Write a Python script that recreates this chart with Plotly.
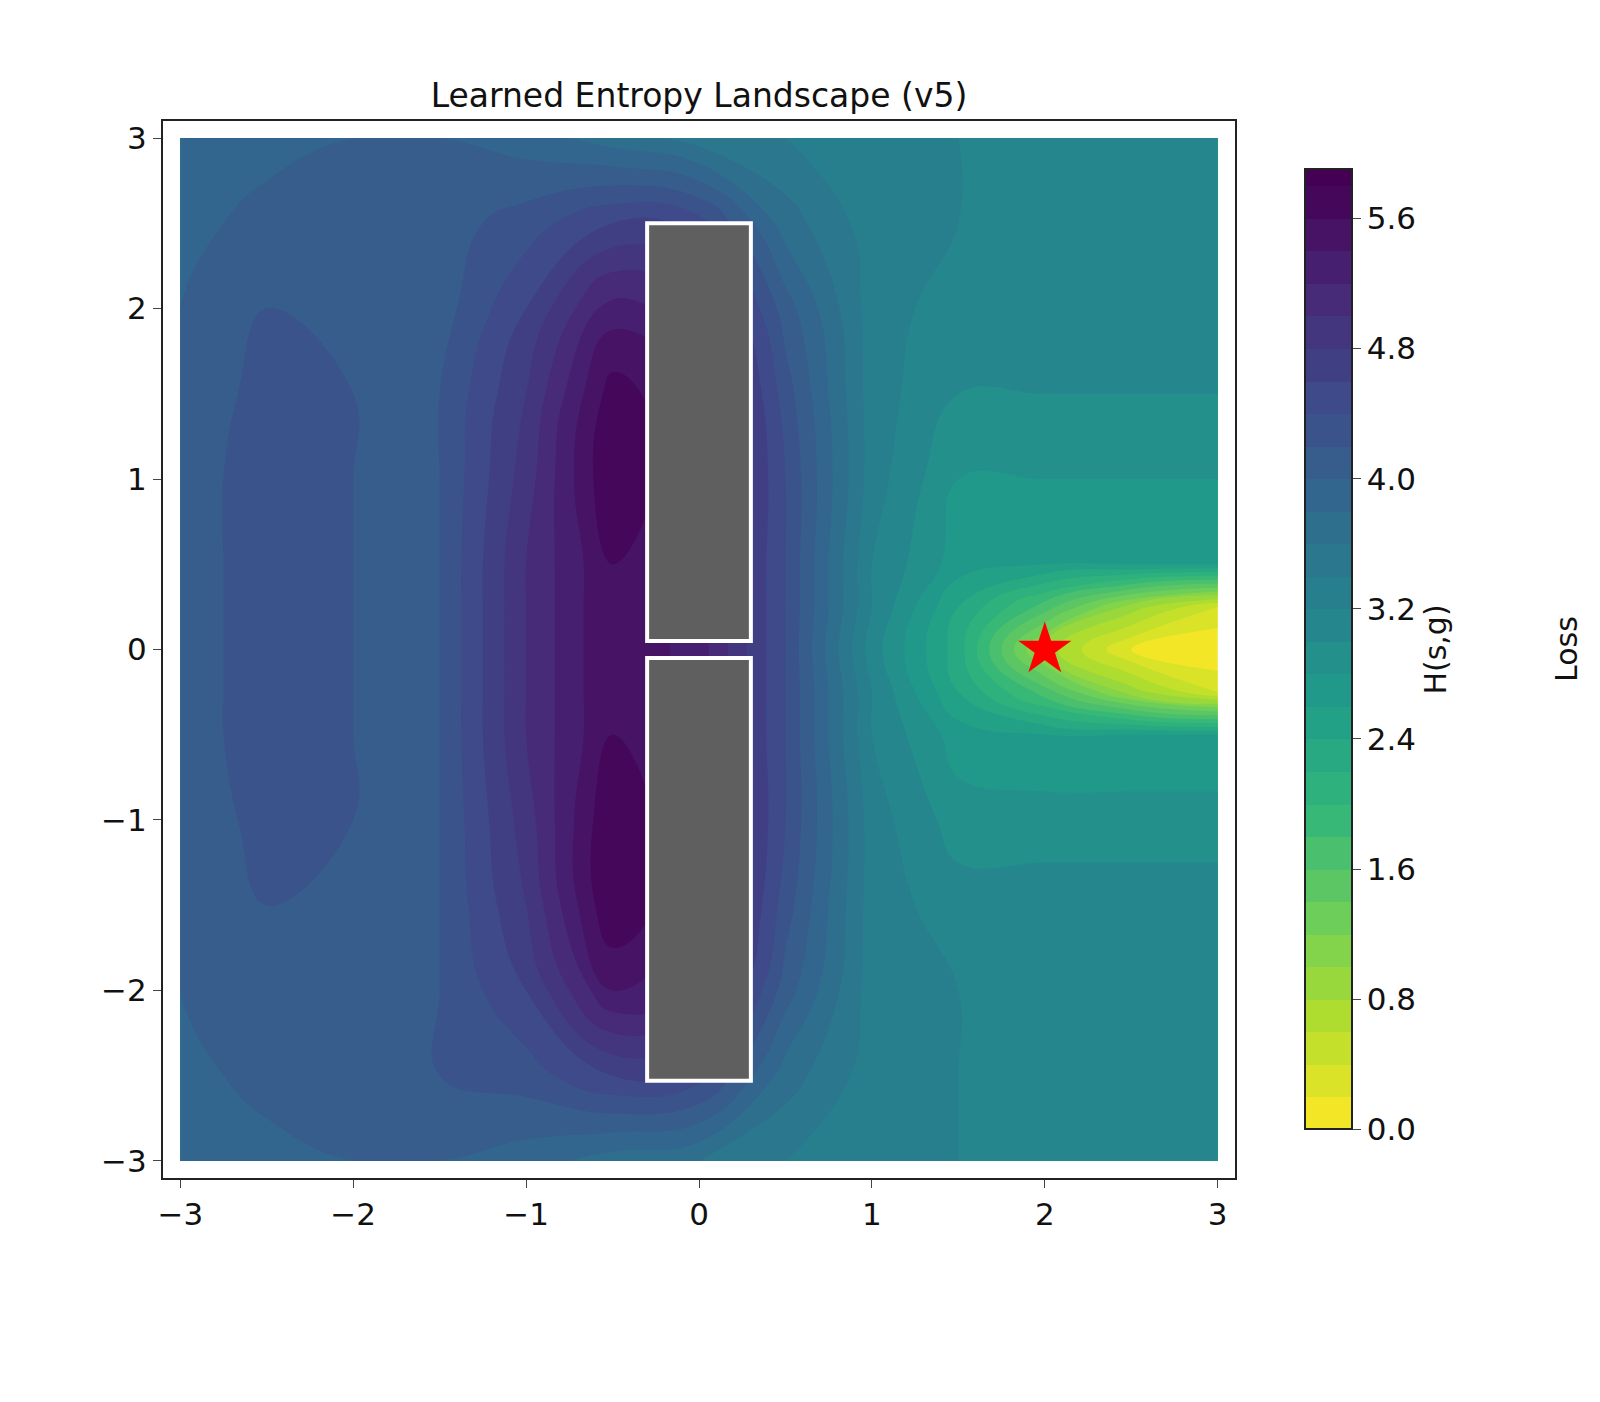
import plotly.graph_objects as go

xs = [-3, -2.5, -2, -1.5, -1, -0.5, 0, 0.5, 1, 1.5, 2, 2.5, 3]
ys = [-3, -2.5, -2, -1.5, -1, -0.5, -0.25, 0, 0.25, 0.5, 1, 1.5, 2, 2.5, 3]
H = [
    [3.8, 3.9, 4.0, 4.0, 3.9, 3.7, 3.6, 3.4, 3.3, 3.2, 3.2, 3.2, 3.2],
    [3.9, 4.1, 4.2, 4.2, 4.3, 4.6, 4.5, 3.7, 3.3, 3.2, 3.2, 3.2, 3.2],
    [4.0, 4.2, 4.2, 4.2, 4.6, 5.4, 5.2, 4.1, 3.3, 3.2, 3.2, 3.2, 3.2],
    [4.0, 4.2, 4.2, 4.2, 4.8, 5.8, 5.4, 4.3, 3.3, 3.1, 3.1, 3.1, 3.1],
    [4.0, 4.3, 4.2, 4.2, 4.9, 5.8, 5.4, 4.4, 3.3, 2.9, 2.9, 2.9, 2.9],
    [4.0, 4.4, 4.2, 4.2, 5.0, 5.6, 5.3, 4.4, 3.2, 2.7, 2.6, 2.6, 2.6],
    [4.0, 4.4, 4.2, 4.2, 5.0, 5.6, 5.3, 4.4, 3.2, 2.4, 1.7, 0.9, 0.4],
    [4.0, 4.4, 4.2, 4.2, 5.0, 5.6, 5.3, 4.4, 3.1, 2.3, 0.9, 0.2, 0.0],
    [4.0, 4.4, 4.2, 4.2, 5.0, 5.6, 5.3, 4.4, 3.2, 2.4, 1.7, 0.9, 0.4],
    [4.0, 4.4, 4.2, 4.2, 5.0, 5.6, 5.3, 4.4, 3.2, 2.7, 2.6, 2.6, 2.6],
    [4.0, 4.4, 4.2, 4.2, 4.9, 5.8, 5.4, 4.4, 3.3, 2.8, 2.8, 2.8, 2.8],
    [4.0, 4.3, 4.2, 4.2, 4.8, 5.7, 5.4, 4.3, 3.3, 3.0, 3.0, 3.0, 3.0],
    [4.0, 4.2, 4.2, 4.1, 4.6, 5.3, 5.1, 4.1, 3.3, 3.1, 3.1, 3.2, 3.2],
    [3.9, 4.1, 4.2, 4.1, 4.3, 4.6, 4.5, 3.7, 3.3, 3.2, 3.2, 3.2, 3.2],
    [3.8, 3.9, 4.0, 4.0, 3.9, 3.7, 3.5, 3.4, 3.3, 3.2, 3.2, 3.2, 3.2],
]
obstacles_x = [[-0.3, 0.3], [-0.3, 0.3]]
obstacles_y = [[0.05, 2.5], [-2.53, -0.05]]
goal = (2, 0)
cb_ticks = [0.0, 0.8, 1.6, 2.4, 3.2, 4.0, 4.8, 5.6]

fig = go.Figure()
fig.add_trace(go.Contour(
    x=xs, y=ys, z=H, colorscale="Viridis", reversescale=True,
    zmin=0, zmax=5.9, line_width=0, line_smoothing=1.3,
    contours=dict(start=0, end=5.9, size=0.2, coloring="fill"),
    colorbar=dict(x=1.056, xanchor="left", y=0.5, yanchor="middle", len=0.927, thickness=47,
                  tickvals=cb_ticks, ticktext=[f"{v:.1f}" for v in cb_ticks],
                  ticks="outside", ticklen=8, outlinewidth=2, outlinecolor="#222",
                  tickfont=dict(size=31), title=dict(text="H(s,g)", side="right", font=dict(size=30))),
))
for ox, oy in zip(obstacles_x, obstacles_y):
    fig.add_shape(type="rect", x0=ox[0], x1=ox[1], y0=oy[0], y1=oy[1],
                  fillcolor="#5f5f5f", line=dict(color="white", width=4))
fig.add_trace(go.Scatter(x=[goal[0]], y=[goal[1]], mode="markers",
                         marker=dict(symbol="star", size=40, color="red"), showlegend=False))
ax = dict(range=[-3.1, 3.1], tickvals=[-3, -2, -1, 0, 1, 2, 3],
          ticktext=["\u22123", "\u22122", "\u22121", "0", "1", "2", "3"],
          showgrid=False, zeroline=False, showline=True, mirror=True, linecolor="#222",
          linewidth=2, ticks="outside", ticklen=8, tickfont=dict(size=31, color="#111"))
fig.update_layout(
    width=1600, height=1402, plot_bgcolor="white", paper_bgcolor="white",
    font=dict(family="DejaVu Sans", color="#111"),
    title=dict(text="Learned Entropy Landscape (v5)", xref="paper", x=0.5, xanchor="center",
               y=0.946, font=dict(size=33)),
    xaxis=ax, yaxis=ax,
    margin=dict(l=155, r=373, t=113, b=232),
    annotations=[dict(text="Loss", x=(1578 - 155) / (1600 - 155 - 373), y=0.5, xref="paper", yref="paper",
                      showarrow=False, textangle=-90, font=dict(size=30))],
)
fig.write_html("out.html")
